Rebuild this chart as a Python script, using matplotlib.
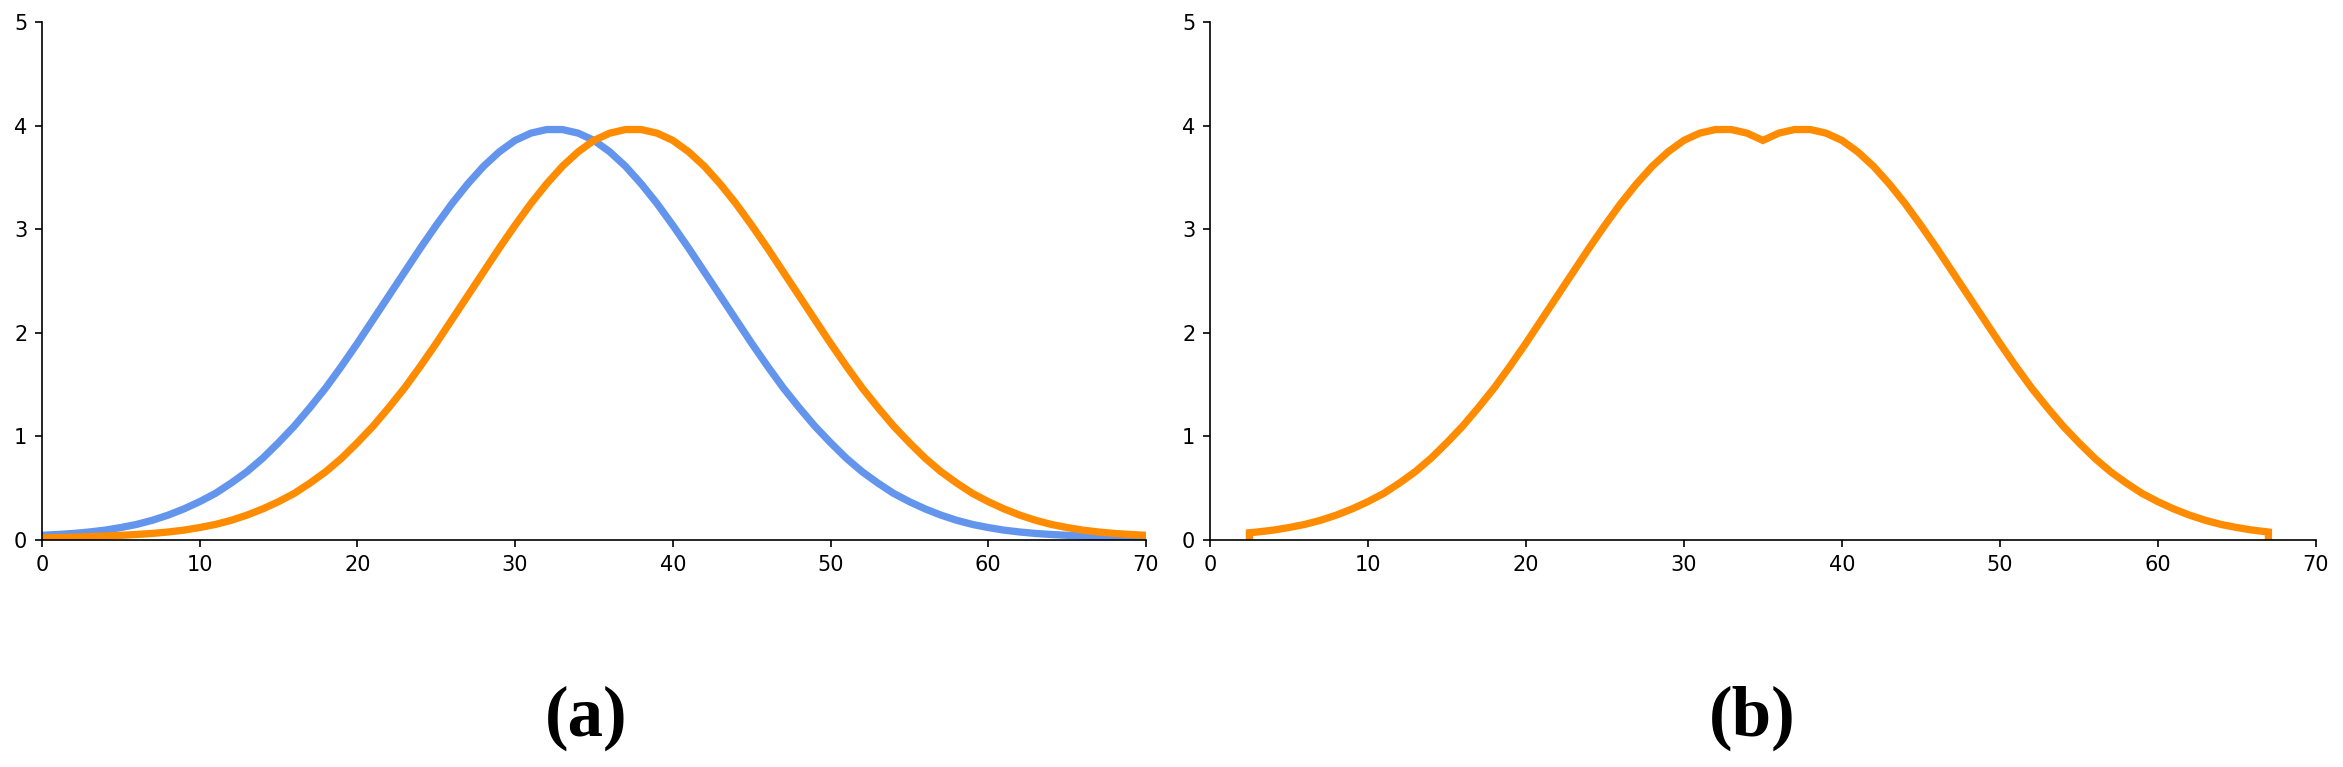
import matplotlib.pyplot as plt

# values at x = 0, 1, ..., 70
xs = list(range(0, 71))
blue = [0.045, 0.053, 0.063, 0.077, 0.095, 0.12, 0.15, 0.19, 0.24, 0.30,
        0.37, 0.45, 0.55, 0.66, 0.79, 0.94, 1.10, 1.28, 1.47, 1.68,
        1.90, 2.13, 2.36, 2.59, 2.82, 3.04, 3.25, 3.44, 3.61, 3.75,
        3.86, 3.93, 3.965, 3.965, 3.93, 3.86, 3.75, 3.61, 3.44, 3.25,
        3.04, 2.82, 2.59, 2.36, 2.13, 1.90, 1.68, 1.47, 1.28, 1.10,
        0.94, 0.79, 0.66, 0.55, 0.45, 0.37, 0.30, 0.24, 0.19, 0.15,
        0.12, 0.095, 0.077, 0.063, 0.053, 0.045, 0.038, 0.032, 0.027, 0.023,
        0.02]
orange = [0.02, 0.023, 0.027, 0.032, 0.038, 0.045, 0.053, 0.063, 0.077, 0.095,
          0.12, 0.15, 0.19, 0.24, 0.30, 0.37, 0.45, 0.55, 0.66, 0.79,
          0.94, 1.10, 1.28, 1.47, 1.68, 1.90, 2.13, 2.36, 2.59, 2.82,
          3.04, 3.25, 3.44, 3.61, 3.75, 3.86, 3.93, 3.965, 3.965, 3.93,
          3.86, 3.75, 3.61, 3.44, 3.25, 3.04, 2.82, 2.59, 2.36, 2.13,
          1.90, 1.68, 1.47, 1.28, 1.10, 0.94, 0.79, 0.66, 0.55, 0.45,
          0.37, 0.30, 0.24, 0.19, 0.15, 0.12, 0.095, 0.077, 0.063, 0.053,
          0.045]

# panel (b): upper envelope between 2.5 and 67
xs_b = [2.5, 2.5] + list(range(3, 68)) + [67]
env_b = [0.0, 0.07,
         0.077, 0.095, 0.12, 0.15, 0.19, 0.24, 0.30, 0.37, 0.45, 0.55,
         0.66, 0.79, 0.94, 1.10, 1.28, 1.47, 1.68, 1.90, 2.13, 2.36,
         2.59, 2.82, 3.04, 3.25, 3.44, 3.61, 3.75, 3.86, 3.93, 3.965,
         3.965, 3.93, 3.86,
         3.93, 3.965, 3.965, 3.93, 3.86, 3.75, 3.61, 3.44, 3.25, 3.04,
         2.82, 2.59, 2.36, 2.13, 1.90, 1.68, 1.47, 1.28, 1.10, 0.94,
         0.79, 0.66, 0.55, 0.45, 0.37, 0.30, 0.24, 0.19, 0.15, 0.12,
         0.095, 0.077,
         0.0]

panel_labels = ["(a)", "(b)"]

fig = plt.figure(figsize=(2343 / 150, 767 / 150), dpi=150)
ax1 = fig.add_axes([0.0179, 0.296, 0.4712, 0.6748])
ax2 = fig.add_axes([0.5164, 0.296, 0.4720, 0.6748])

ax1.plot(xs, blue, color="cornflowerblue", lw=3.5, solid_capstyle="butt")
ax1.plot(xs, orange, color="darkorange", lw=3.5, solid_capstyle="butt")
ax2.plot(xs_b, env_b, color="darkorange", lw=3.5, solid_capstyle="butt",
         solid_joinstyle="miter")

for ax in (ax1, ax2):
    ax.set_xlim(0, 70)
    ax.set_ylim(0, 5)
    ax.set_xticks(range(0, 71, 10))
    ax.set_yticks(range(0, 6))
    ax.spines["top"].set_visible(False)
    ax.spines["right"].set_visible(False)

fig.text(0.250, 0.064, panel_labels[0], ha="center", va="center",
         fontsize=34, fontweight="bold", family="Liberation Serif")
fig.text(0.748, 0.064, panel_labels[1], ha="center", va="center",
         fontsize=34, fontweight="bold", family="Liberation Serif")

fig.savefig("out.png", dpi=150)
